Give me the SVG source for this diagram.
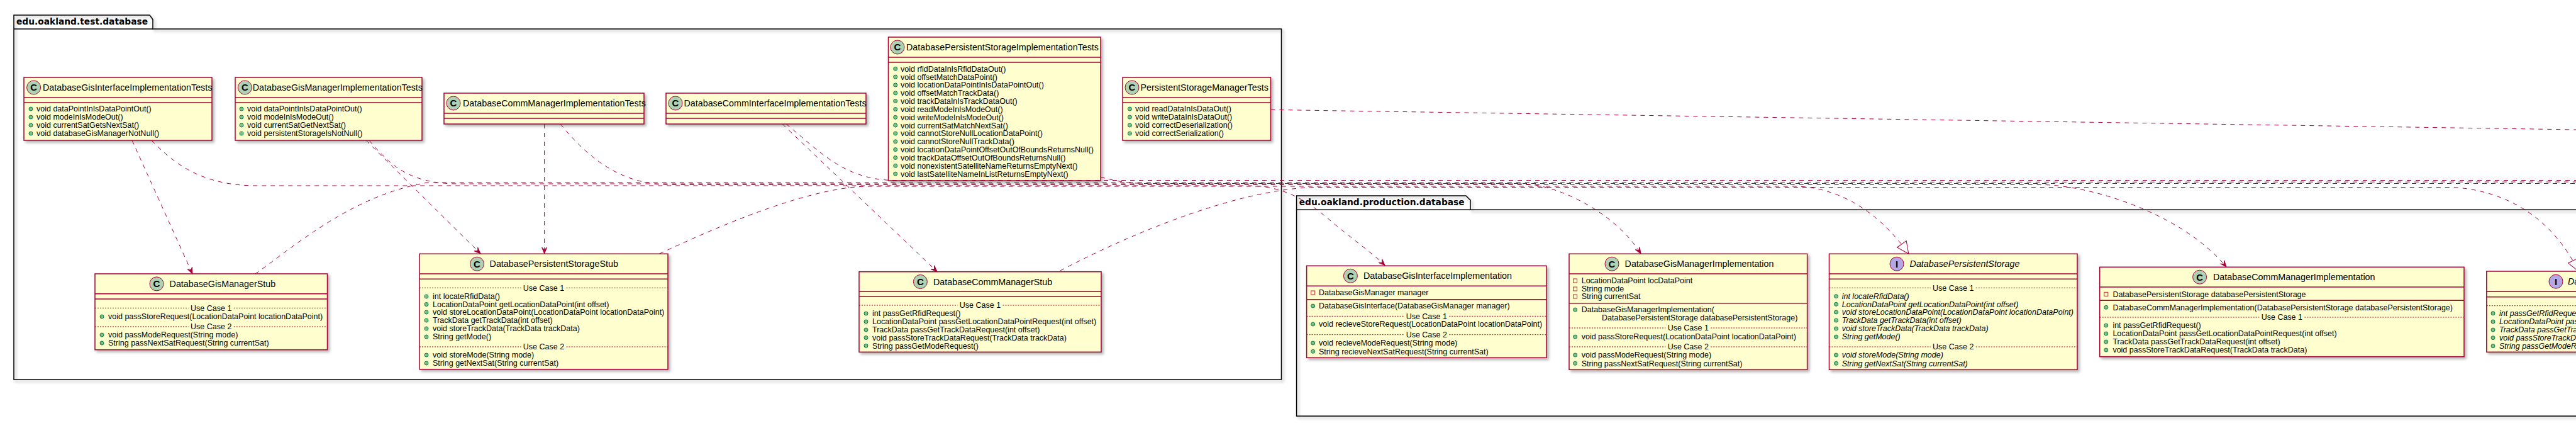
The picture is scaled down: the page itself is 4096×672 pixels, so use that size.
<svg xmlns="http://www.w3.org/2000/svg" width="4096" height="672" viewBox="0 0 4096 672">
<defs>
<style>
.box{fill:#FEFECE;stroke:#A80036;stroke-width:1.5;filter:url(#sh);}
.sep{stroke:#A80036;stroke-width:1.5;fill:none;}
.dot{stroke:#A80036;stroke-width:1;stroke-dasharray:2,2;fill:none;}
.cn{font-family:"Liberation Sans",Arial,sans-serif;font-size:14.3px;fill:#000;}
.m{font-family:"Liberation Sans",Arial,sans-serif;font-size:12.5px;fill:#000;}
.it{font-style:italic;}
.uc{text-anchor:middle;}
.pub{fill:#84BE84;stroke:#038048;stroke-width:1;}
.priv{fill:none;stroke:#C82930;stroke-width:1;}
.ic{fill:#ADD1B2;stroke:#A80036;stroke-width:1;}
.ii{fill:#B4A7E5;stroke:#A80036;stroke-width:1;}
.il{font-family:"Liberation Sans",Arial,sans-serif;font-weight:bold;font-size:15px;text-anchor:middle;fill:#000;}
.pk{fill:none;stroke:#000;stroke-width:1.5;filter:url(#sh);}
.pt{font-family:"DejaVu Sans",sans-serif;font-weight:bold;font-size:13.8px;fill:#000;}
.c{fill:none;stroke:#A80036;stroke-width:1;stroke-dasharray:7,7;}
</style>
<filter id="sh" x="-5%" y="-5%" width="115%" height="125%">
<feDropShadow dx="3" dy="3" stdDeviation="2" flood-color="#000000" flood-opacity="0.3"/>
</filter>
<marker id="dep" markerUnits="userSpaceOnUse" markerWidth="14" markerHeight="14" viewBox="-12 -7 14 14" refX="0" refY="0" orient="auto">
<path d="M0,0 L-10,-4 L-6,0 L-10,4 Z" fill="#A80036" stroke="#A80036" stroke-width="1" stroke-dasharray="none"/>
</marker>
<marker id="real" markerUnits="userSpaceOnUse" markerWidth="24" markerHeight="24" viewBox="-22 -12 24 24" refX="0" refY="0" orient="auto">
<path d="M0,0 L-19,-9 L-19,9 Z" fill="#FFFFFF" stroke="#A80036" stroke-width="1" stroke-dasharray="none"/>
</marker>
</defs>
<rect x="0" y="0" width="4096" height="672" fill="#FFFFFF"/>

<g id="pkg-test">
<path class="pk" d="M22,24 L238,24 L243,31 L243,46 L2037.5,46 L2037.5,603 L22,603 Z"/>
<line x1="22" y1="46" x2="243" y2="46" stroke="#000" stroke-width="1.5"/>
<text class="pt" x="26" y="39">edu.oakland.test.database</text>
</g>

<g id="pkg-production">
<path class="pk" d="M2061.6,311 L2331,311 L2338,318 L2338,333.3 L4300,333.3 L4300,661 L2061.6,661 Z"/>
<line x1="2061.6" y1="333.3" x2="2338" y2="333.3" stroke="#000" stroke-width="1.5"/>
<text class="pt" x="2065.7" y="325.5">edu.oakland.production.database</text>
</g>

<g id="DatabaseGisInterfaceImplementationTests">
<rect class="box" x="38" y="123" width="299" height="100"/>
<line class="sep" x1="38" y1="155" x2="337" y2="155"/>
<line class="sep" x1="38" y1="163" x2="337" y2="163"/>
<circle class="ic" cx="53.6" cy="139" r="11"/><text class="il" x="53.6" y="144.3">C</text>
<text class="cn" x="68" y="144">DatabaseGisInterfaceImplementationTests</text>
<circle class="pub" cx="49" cy="173" r="3"/><text class="m" x="58" y="177.4">void dataPointInIsDataPointOut()</text>
<circle class="pub" cx="49" cy="186" r="3"/><text class="m" x="58" y="190.4">void modeInIsModeOut()</text>
<circle class="pub" cx="49" cy="199" r="3"/><text class="m" x="58" y="203.4">void currentSatGetsNextSat()</text>
<circle class="pub" cx="49" cy="212" r="3"/><text class="m" x="58" y="216.4">void databaseGisManagerNotNull()</text>
</g>

<g id="DatabaseGisManagerImplementationTests">
<rect class="box" x="374" y="123" width="297" height="100"/>
<line class="sep" x1="374" y1="155" x2="671" y2="155"/>
<line class="sep" x1="374" y1="163" x2="671" y2="163"/>
<circle class="ic" cx="389.3" cy="139" r="11"/><text class="il" x="389.3" y="144.3">C</text>
<text class="cn" x="401.8" y="144">DatabaseGisManagerImplementationTests</text>
<circle class="pub" cx="384" cy="173" r="3"/><text class="m" x="393" y="177.4">void dataPointInIsDataPointOut()</text>
<circle class="pub" cx="384" cy="186" r="3"/><text class="m" x="393" y="190.4">void modeInIsModeOut()</text>
<circle class="pub" cx="384" cy="199" r="3"/><text class="m" x="393" y="203.4">void currentSatGetNextSat()</text>
<circle class="pub" cx="384" cy="212" r="3"/><text class="m" x="393" y="216.4">void persistentStorageIsNotNull()</text>
</g>

<g id="DatabaseCommManagerImplementationTests">
<rect class="box" x="706" y="148" width="318" height="49"/>
<line class="sep" x1="706" y1="180" x2="1024" y2="180"/>
<line class="sep" x1="706" y1="188" x2="1024" y2="188"/>
<circle class="ic" cx="721" cy="164" r="11"/><text class="il" x="721" y="169.3">C</text>
<text class="cn" x="736" y="169">DatabaseCommManagerImplementationTests</text>
</g>

<g id="DatabaseCommInterfaceImplementationTests">
<rect class="box" x="1059" y="148" width="318" height="49"/>
<line class="sep" x1="1059" y1="180" x2="1377" y2="180"/>
<line class="sep" x1="1059" y1="188" x2="1377" y2="188"/>
<circle class="ic" cx="1074" cy="164" r="11"/><text class="il" x="1074" y="169.3">C</text>
<text class="cn" x="1087.5" y="169">DatabaseCommInterfaceImplementationTests</text>
</g>

<g id="DatabasePersistentStorageImplementationTests">
<rect class="box" x="1412.5" y="59" width="337.5" height="228"/>
<line class="sep" x1="1412.5" y1="91" x2="1750" y2="91"/>
<line class="sep" x1="1412.5" y1="99" x2="1750" y2="99"/>
<circle class="ic" cx="1427" cy="75" r="11"/><text class="il" x="1427" y="80.3">C</text>
<text class="cn" x="1441" y="80">DatabasePersistentStorageImplementationTests</text>
<circle class="pub" cx="1423.7" cy="109.3" r="3"/><text class="m" x="1432" y="113.7">void rfidDataInIsRfidDataOut()</text>
<circle class="pub" cx="1423.7" cy="122.1" r="3"/><text class="m" x="1432" y="126.5">void offsetMatchDataPoint()</text>
<circle class="pub" cx="1423.7" cy="135" r="3"/><text class="m" x="1432" y="139.4">void locationDataPointInIsDataPointOut()</text>
<circle class="pub" cx="1423.7" cy="147.8" r="3"/><text class="m" x="1432" y="152.2">void offsetMatchTrackData()</text>
<circle class="pub" cx="1423.7" cy="160.6" r="3"/><text class="m" x="1432" y="165">void trackDataInIsTrackDataOut()</text>
<circle class="pub" cx="1423.7" cy="173.5" r="3"/><text class="m" x="1432" y="177.9">void readModeInIsModeOut()</text>
<circle class="pub" cx="1423.7" cy="186.3" r="3"/><text class="m" x="1432" y="190.7">void writeModeInIsModeOut()</text>
<circle class="pub" cx="1423.7" cy="199.1" r="3"/><text class="m" x="1432" y="203.5">void currentSatMatchNextSat()</text>
<circle class="pub" cx="1423.7" cy="212" r="3"/><text class="m" x="1432" y="216.4">void cannotStoreNullLocationDataPoint()</text>
<circle class="pub" cx="1423.7" cy="224.8" r="3"/><text class="m" x="1432" y="229.2">void cannotStoreNullTrackData()</text>
<circle class="pub" cx="1423.7" cy="237.6" r="3"/><text class="m" x="1432" y="242">void locationDataPointOffsetOutOfBoundsReturnsNull()</text>
<circle class="pub" cx="1423.7" cy="250.5" r="3"/><text class="m" x="1432" y="254.9">void trackDataOffsetOutOfBoundsReturnsNull()</text>
<circle class="pub" cx="1423.7" cy="263.3" r="3"/><text class="m" x="1432" y="267.7">void nonexistentSatelliteNameReturnsEmptyNext()</text>
<circle class="pub" cx="1423.7" cy="276.1" r="3"/><text class="m" x="1432" y="280.5">void lastSatelliteNameInListReturnsEmptyNext()</text>
</g>

<g id="PersistentStorageManagerTests">
<rect class="box" x="1785" y="123" width="235.5" height="100"/>
<line class="sep" x1="1785" y1="155" x2="2020.5" y2="155"/>
<line class="sep" x1="1785" y1="163" x2="2020.5" y2="163"/>
<circle class="ic" cx="1800" cy="139" r="11"/><text class="il" x="1800" y="144.3">C</text>
<text class="cn" x="1813.5" y="144">PersistentStorageManagerTests</text>
<circle class="pub" cx="1796.4" cy="173" r="3"/><text class="m" x="1805" y="177.4">void readDataInIsDataOut()</text>
<circle class="pub" cx="1796.4" cy="186" r="3"/><text class="m" x="1805" y="190.4">void writeDataInIsDataOut()</text>
<circle class="pub" cx="1796.4" cy="199" r="3"/><text class="m" x="1805" y="203.4">void correctDeserialization()</text>
<circle class="pub" cx="1796.4" cy="212" r="3"/><text class="m" x="1805" y="216.4">void correctSerialization()</text>
</g>

<g id="DatabaseGisManagerStub">
<rect class="box" x="151" y="435" width="369.5" height="120.7"/>
<line class="sep" x1="151" y1="466.7" x2="520.5" y2="466.7"/>
<line class="sep" x1="151" y1="475" x2="520.5" y2="475"/>
<circle class="ic" cx="249" cy="450.9" r="11"/><text class="il" x="249" y="456.2">C</text>
<text class="cn" x="269.6" y="455.9">DatabaseGisManagerStub</text>
<path class="dot" d="M151,489.3 H299.7 M371.8,489.3 H520.5"/>
<text class="m uc" x="335.75" y="493.7">Use Case 1</text>
<circle class="pub" cx="162" cy="503" r="3"/><text class="m" x="172" y="507.4">void passStoreRequest(LocationDataPoint locationDataPoint)</text>
<path class="dot" d="M151,519 H299.7 M371.8,519 H520.5"/>
<text class="m uc" x="335.75" y="523.4">Use Case 2</text>
<circle class="pub" cx="162" cy="532" r="3"/><text class="m" x="172" y="536.4">void passModeRequest(String mode)</text>
<circle class="pub" cx="162" cy="545" r="3"/><text class="m" x="172" y="549.4">String passNextSatRequest(String currentSat)</text>
</g>

<g id="DatabasePersistentStorageStub">
<rect class="box" x="667" y="403.3" width="395" height="183.4"/>
<line class="sep" x1="667" y1="435" x2="1062" y2="435"/>
<line class="sep" x1="667" y1="443.3" x2="1062" y2="443.3"/>
<circle class="ic" cx="758.5" cy="419.2" r="11"/><text class="il" x="758.5" y="424.5">C</text>
<text class="cn" x="778.6" y="424.2">DatabasePersistentStorageStub</text>
<path class="dot" d="M667,457.3 H828.5 M900.5,457.3 H1062"/>
<text class="m uc" x="864.5" y="461.7">Use Case 1</text>
<circle class="pub" cx="678" cy="471" r="3"/><text class="m" x="688" y="475.4">int locateRfidData()</text>
<circle class="pub" cx="678" cy="483.5" r="3"/><text class="m" x="688" y="487.9">LocationDataPoint getLocationDataPoint(int offset)</text>
<circle class="pub" cx="678" cy="496" r="3"/><text class="m" x="688" y="500.4">void storeLocationDataPoint(LocationDataPoint locationDataPoint)</text>
<circle class="pub" cx="678" cy="509" r="3"/><text class="m" x="688" y="513.4">TrackData getTrackData(int offset)</text>
<circle class="pub" cx="678" cy="522" r="3"/><text class="m" x="688" y="526.4">void storeTrackData(TrackData trackData)</text>
<circle class="pub" cx="678" cy="535" r="3"/><text class="m" x="688" y="539.4">String getMode()</text>
<path class="dot" d="M667,551 H828.5 M900.5,551 H1062"/>
<text class="m uc" x="864.5" y="555.4">Use Case 2</text>
<circle class="pub" cx="678" cy="564" r="3"/><text class="m" x="688" y="568.4">void storeMode(String mode)</text>
<circle class="pub" cx="678" cy="577" r="3"/><text class="m" x="688" y="581.4">String getNextSat(String currentSat)</text>
</g>

<g id="DatabaseCommManagerStub">
<rect class="box" x="1366" y="431.7" width="385" height="127.6"/>
<line class="sep" x1="1366" y1="463.3" x2="1751" y2="463.3"/>
<line class="sep" x1="1366" y1="471.3" x2="1751" y2="471.3"/>
<circle class="ic" cx="1463.4" cy="447.5" r="11"/><text class="il" x="1463.4" y="452.8">C</text>
<text class="cn" x="1484" y="452.5">DatabaseCommManagerStub</text>
<path class="dot" d="M1366,485 H1522.5 M1594.5,485 H1751"/>
<text class="m uc" x="1558.5" y="489.4">Use Case 1</text>
<circle class="pub" cx="1377" cy="498" r="3"/><text class="m" x="1387" y="502.4">int passGetRfidRequest()</text>
<circle class="pub" cx="1377" cy="511" r="3"/><text class="m" x="1387" y="515.4">LocationDataPoint passGetLocationDataPointRequest(int offset)</text>
<circle class="pub" cx="1377" cy="524" r="3"/><text class="m" x="1387" y="528.4">TrackData passGetTrackDataRequest(int offset)</text>
<circle class="pub" cx="1377" cy="536.5" r="3"/><text class="m" x="1387" y="540.9">void passStoreTrackDataRequest(TrackData trackData)</text>
<circle class="pub" cx="1377" cy="549.3" r="3"/><text class="m" x="1387" y="553.7">String passGetModeRequest()</text>
</g>

<g id="DatabaseGisInterfaceImplementation">
<rect class="box" x="2077.6" y="422.3" width="381.4" height="146"/>
<line class="sep" x1="2077.6" y1="454.3" x2="2459" y2="454.3"/>
<circle class="ic" cx="2147.4" cy="438.3" r="11"/><text class="il" x="2147.4" y="443.6">C</text>
<text class="cn" x="2168" y="443.3">DatabaseGisInterfaceImplementation</text>
<rect class="priv" x="2084.7" y="462" width="6" height="6"/><text class="m" x="2097" y="469.4">DatabaseGisManager manager</text>
<line class="sep" x1="2077.6" y1="475.7" x2="2459" y2="475.7"/>
<circle class="pub" cx="2087.7" cy="486" r="3"/><text class="m" x="2097" y="490.4">DatabaseGisInterface(DatabaseGisManager manager)</text>
<path class="dot" d="M2077.6,502.3 H2232.3 M2304.3,502.3 H2459"/>
<text class="m uc" x="2268.3" y="506.7">Use Case 1</text>
<circle class="pub" cx="2087.7" cy="515" r="3"/><text class="m" x="2097" y="519.4">void recieveStoreRequest(LocationDataPoint locationDataPoint)</text>
<path class="dot" d="M2077.6,531.7 H2232.3 M2304.3,531.7 H2459"/>
<text class="m uc" x="2268.3" y="536.1">Use Case 2</text>
<circle class="pub" cx="2087.7" cy="545" r="3"/><text class="m" x="2097" y="549.4">void recieveModeRequest(String mode)</text>
<circle class="pub" cx="2087.7" cy="558.3" r="3"/><text class="m" x="2097" y="562.7">String recieveNextSatRequest(String currentSat)</text>
</g>

<g id="DatabaseGisManagerImplementation">
<rect class="box" x="2495" y="403.3" width="378.6" height="184"/>
<line class="sep" x1="2495" y1="435" x2="2873.6" y2="435"/>
<circle class="ic" cx="2563" cy="419.2" r="11"/><text class="il" x="2563" y="424.5">C</text>
<text class="cn" x="2583.6" y="424.2">DatabaseGisManagerImplementation</text>
<rect class="priv" x="2501.6" y="443" width="6" height="6"/><text class="m" x="2514.7" y="450.4">LocationDataPoint locDataPoint</text>
<rect class="priv" x="2501.6" y="456" width="6" height="6"/><text class="m" x="2514.7" y="463.4">String mode</text>
<rect class="priv" x="2501.6" y="468" width="6" height="6"/><text class="m" x="2514.7" y="475.4">String currentSat</text>
<line class="sep" x1="2495" y1="481.7" x2="2873.6" y2="481.7"/>
<circle class="pub" cx="2504.6" cy="492" r="3"/><text class="m" x="2514.7" y="496.4">DatabaseGisManagerImplementation(</text>
<text class="m" x="2547" y="509.4">DatabasePersistentStorage databasePersistentStorage)</text>
<path class="dot" d="M2495,521 H2648.3 M2720.3,521 H2873.6"/>
<text class="m uc" x="2684.3" y="525.4">Use Case 1</text>
<circle class="pub" cx="2504.6" cy="535" r="3"/><text class="m" x="2514.7" y="539.4">void passStoreRequest(LocationDataPoint locationDataPoint)</text>
<path class="dot" d="M2495,551 H2648.3 M2720.3,551 H2873.6"/>
<text class="m uc" x="2684.3" y="555.4">Use Case 2</text>
<circle class="pub" cx="2504.6" cy="564" r="3"/><text class="m" x="2514.7" y="568.4">void passModeRequest(String mode)</text>
<circle class="pub" cx="2504.6" cy="577.3" r="3"/><text class="m" x="2514.7" y="581.7">String passNextSatRequest(String currentSat)</text>
</g>

<g id="DatabasePersistentStorage">
<rect class="box" x="2908.5" y="403.3" width="394.5" height="184"/>
<line class="sep" x1="2908.5" y1="435" x2="3303" y2="435"/>
<line class="sep" x1="2908.5" y1="443.3" x2="3303" y2="443.3"/>
<circle class="ii" cx="3016" cy="419.2" r="11"/><text class="il" x="3016" y="424.5">I</text>
<text class="cn it" x="3036.6" y="424.2">DatabasePersistentStorage</text>
<path class="dot" d="M2908.5,457.3 H3069.8 M3141.8,457.3 H3303"/>
<text class="m uc" x="3105.75" y="461.7">Use Case 1</text>
<circle class="pub" cx="2919.5" cy="470.7" r="3"/><text class="m it" x="2928.7" y="475.1">int locateRfidData()</text>
<circle class="pub" cx="2919.5" cy="483.3" r="3"/><text class="m it" x="2928.7" y="487.7">LocationDataPoint getLocationDataPoint(int offset)</text>
<circle class="pub" cx="2919.5" cy="496" r="3"/><text class="m it" x="2928.7" y="500.4">void storeLocationDataPoint(LocationDataPoint locationDataPoint)</text>
<circle class="pub" cx="2919.5" cy="509" r="3"/><text class="m it" x="2928.7" y="513.4">TrackData getTrackData(int offset)</text>
<circle class="pub" cx="2919.5" cy="522" r="3"/><text class="m it" x="2928.7" y="526.4">void storeTrackData(TrackData trackData)</text>
<circle class="pub" cx="2919.5" cy="535" r="3"/><text class="m it" x="2928.7" y="539.4">String getMode()</text>
<path class="dot" d="M2908.5,551 H3069.8 M3141.8,551 H3303"/>
<text class="m uc" x="3105.75" y="555.4">Use Case 2</text>
<circle class="pub" cx="2919.5" cy="564" r="3"/><text class="m it" x="2928.7" y="568.4">void storeMode(String mode)</text>
<circle class="pub" cx="2919.5" cy="577.3" r="3"/><text class="m it" x="2928.7" y="581.7">String getNextSat(String currentSat)</text>
</g>

<g id="DatabaseCommManagerImplementation">
<rect class="box" x="3338.7" y="424.3" width="579.3" height="142.4"/>
<line class="sep" x1="3338.7" y1="456" x2="3918" y2="456"/>
<circle class="ic" cx="3497.6" cy="440.2" r="11"/><text class="il" x="3497.6" y="445.5">C</text>
<text class="cn" x="3519" y="445.2">DatabaseCommManagerImplementation</text>
<rect class="priv" x="3345.8" y="464.3" width="6" height="6"/><text class="m" x="3359.4" y="471.7">DatabasePersistentStorage databasePersistentStorage</text>
<line class="sep" x1="3338.7" y1="477.3" x2="3918" y2="477.3"/>
<circle class="pub" cx="3348.8" cy="488.3" r="3"/><text class="m" x="3359.4" y="492.7">DatabaseCommManagerImplementation(DatabasePersistentStorage databasePersistentStorage)</text>
<path class="dot" d="M3338.7,504 H3592.4 M3664.4,504 H3918"/>
<text class="m uc" x="3628.35" y="508.4">Use Case 1</text>
<circle class="pub" cx="3348.8" cy="517" r="3"/><text class="m" x="3359.4" y="521.4">int passGetRfidRequest()</text>
<circle class="pub" cx="3348.8" cy="530" r="3"/><text class="m" x="3359.4" y="534.4">LocationDataPoint passGetLocationDataPointRequest(int offset)</text>
<circle class="pub" cx="3348.8" cy="543" r="3"/><text class="m" x="3359.4" y="547.4">TrackData passGetTrackDataRequest(int offset)</text>
<circle class="pub" cx="3348.8" cy="556" r="3"/><text class="m" x="3359.4" y="560.4">void passStoreTrackDataRequest(TrackData trackData)</text>
</g>

<g id="DatabaseCommManager">
<rect class="box" x="3953.8" y="431" width="386" height="128.3"/>
<line class="sep" x1="3953.8" y1="463.3" x2="4339.8" y2="463.3"/>
<line class="sep" x1="3953.8" y1="471.7" x2="4339.8" y2="471.7"/>
<circle class="ii" cx="4064" cy="447.2" r="11"/><text class="il" x="4064" y="452.5">I</text>
<text class="cn it" x="4083" y="452.2">DatabaseCommManager</text>
<path class="dot" d="M3953.8,485.7 H4110.9 M4182.9,485.7 H4339.8"/>
<text class="m uc" x="4146.9" y="490.1">Use Case 1</text>
<circle class="pub" cx="3964" cy="497.7" r="3"/><text class="m it" x="3974" y="502.1">int passGetRfidRequest()</text>
<circle class="pub" cx="3964" cy="511" r="3"/><text class="m it" x="3974" y="515.4">LocationDataPoint passGetLocationDataPointRequest(int offset)</text>
<circle class="pub" cx="3964" cy="524" r="3"/><text class="m it" x="3974" y="528.4">TrackData passGetTrackDataRequest(int offset)</text>
<circle class="pub" cx="3964" cy="536.7" r="3"/><text class="m it" x="3974" y="541.1">void passStoreTrackDataRequest(TrackData trackData)</text>
<circle class="pub" cx="3964" cy="549.7" r="3"/><text class="m it" x="3974" y="554.1">String passGetModeRequest()</text>
</g>

<g id="connectors">
<path class="c" d="M210,223 L306,435" marker-end="url(#dep)"/>
<path class="c" d="M241,223 C275,258 318,294 405,295 L1990,295 C2050,297 2085,325 2115,350 C2150,380 2180,400 2202,421.5" marker-end="url(#dep)"/>
<path class="c" d="M582,223 L764,403" marker-end="url(#dep)"/>
<path class="c" d="M587,223 C620,262 650,291 725,292 L2420,292 C2480,293 2570,340 2609,403" marker-end="url(#dep)"/>
<path class="c" d="M865.6,197 L865.6,403" marker-end="url(#dep)"/>
<path class="c" d="M891,197 C935,250 985,293 1065,293.5 L3250,293.5 C3330,296 3470,340 3540,424" marker-end="url(#dep)"/>
<path class="c" d="M1244,197 L1490,431.5" marker-end="url(#dep)"/>
<path class="c" d="M1250,197 C1300,237 1340,285 1420,286.5 L4200,286.5"/>
<path class="c" d="M1750,281 C1770,287 1790,291 1820,291.5 L4200,291.5"/>
<path class="c" d="M2020.5,174.3 L4200,207.6"/>
<path class="c" d="M406,435 C470,390 560,310 680,290 L4200,289"/>
<path class="c" d="M1048.7,403 C1120,370 1280,297 1380,296 L2860,296 C2930,300 2990,340 3034.8,403.3" marker-end="url(#real)"/>
<path class="c" d="M1686,430 C1780,380 1960,301 2090,297.5 L3900,297.5 C3990,303 4060,350 4100,431" marker-end="url(#real)"/>
</g>
</svg>
